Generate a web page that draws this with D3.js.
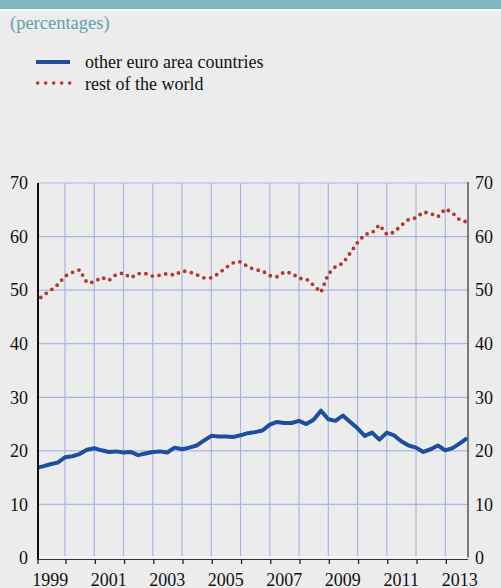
<!DOCTYPE html>
<html>
<head>
<meta charset="utf-8">
<script src="https://cdn.jsdelivr.net/npm/d3@7"></script>
<style>
  body { margin: 0; background: #ececec; }
  svg { display: block; }
</style>
</head>
<body>
<div class="canvas"></div>
<script>
// quarterly data, 1999 Q1 - 2013 Q4
const startYear = 1999;
const euroArea = [
  16.8, 17.1, 17.5, 17.8, 18.8, 19.0, 19.4, 20.2, 20.5, 20.1,
  19.8, 19.9, 19.7, 19.8, 19.2, 19.5, 19.8, 19.9, 19.7, 20.6,
  20.3, 20.6, 21.0, 21.9, 22.8, 22.7, 22.7, 22.6, 22.9, 23.3,
  23.5, 23.8, 24.9, 25.4, 25.2, 25.2, 25.6, 25.0, 25.8, 27.5,
  25.9, 25.6, 26.6, 25.4, 24.2, 22.8, 23.4, 22.1, 23.4, 22.9,
  21.8, 21.0, 20.6, 19.8, 20.3, 21.0, 20.1, 20.5, 21.4, 22.4
];
const restWorld = [
  47.8, 49.0, 49.9, 51.0, 52.6, 53.3, 53.8, 51.4, 51.5, 52.4,
  51.8, 52.9, 53.2, 52.3, 53.1, 53.1, 52.6, 52.8, 53.1, 52.8,
  53.6, 53.4, 52.9, 52.3, 52.3, 53.1, 54.2, 55.1, 55.3, 54.4,
  53.8, 53.6, 52.7, 52.5, 53.4, 53.2, 52.2, 52.1, 50.9, 49.6,
  53.0, 54.4, 55.0, 56.9, 58.9, 60.4, 60.7, 62.2, 60.4, 60.8,
  62.1, 63.2, 63.5, 64.6, 64.3, 63.7, 65.2, 64.4, 63.1, 62.7
];
const seriesNames = ['other euro area countries', 'rest of the world'];
const yTicks = [0, 10, 20, 30, 40, 50, 60, 70];
const yearLabels = [1999, 2001, 2003, 2005, 2007, 2009, 2011, 2013];

const quarters = euroArea.map((d, i) => new Date(startYear, 3 * i, 1));

const width = 501, height = 588;
const plotLeft = 38, plotRight = 468, plotTop = 183, plotBottom = 558;
const blue = '#1c4f9e', red = '#b3372c', grid = '#aab5e6';
const serif = "'Liberation Serif', 'DejaVu Serif', 'Times New Roman', serif";

const svg = d3.select('.canvas')
    .append('svg')
    .attr('width', width)
    .attr('height', height)
    .attr('font-family', serif)
    .style('font-family', serif);

// header band and subtitle
svg.append('rect').attr('x', 0).attr('y', 0).attr('width', width).attr('height', 9).attr('fill', '#82b5bc');
svg.append('rect').attr('x', 0).attr('y', 9).attr('width', width).attr('height', 2).attr('fill', '#ffffff');
svg.append('text')
    .attr('x', 10).attr('y', 29)
    .attr('font-size', 18.5)
    .attr('fill', '#5fa3ab')
    .text('(percentages)');

// legend
const legend = svg.append('g');
legend.append('line')
    .attr('x1', 36).attr('x2', 70).attr('y1', 62).attr('y2', 62)
    .attr('stroke', blue).attr('stroke-width', 4);
legend.append('line')
    .attr('x1', 37.7).attr('x2', 70).attr('y1', 83).attr('y2', 83)
    .attr('stroke', red).attr('stroke-width', 3.6)
    .attr('stroke-linecap', 'round').attr('stroke-dasharray', '0 8');
legend.selectAll('text.leg')
    .data(seriesNames)
    .enter().append('text')
    .attr('class', 'leg')
    .attr('x', 85)
    .attr('y', (d, i) => 68 + i * 21.5)
    .attr('font-size', 18)
    .attr('fill', '#111')
    .text(d => d);

// scales
const x = d3.scaleTime()
    .domain([new Date(1999, 0, 1), new Date(2013, 9, 1)])
    .range([35.75, 467.2]);
const y = d3.scaleLinear()
    .domain([0, 70])
    .range([plotBottom, plotTop]);

const yearLines = d3.timeYear.range(new Date(2000, 0, 1), new Date(2014, 0, 1));

// grid
const gridG = svg.append('g');
gridG.selectAll('line.h')
    .data(yTicks.filter(d => d > 0))
    .enter().append('line')
    .attr('x1', plotLeft).attr('x2', plotRight)
    .attr('y1', d => y(d)).attr('y2', d => y(d))
    .attr('stroke', grid).attr('stroke-width', 1.2);
gridG.selectAll('line.v')
    .data(yearLines)
    .enter().append('line')
    .attr('x1', d => x(d)).attr('x2', d => x(d))
    .attr('y1', plotTop).attr('y2', plotBottom - 1.5)
    .attr('stroke', grid).attr('stroke-width', 1.2);

// bottom axis
svg.append('line')
    .attr('x1', plotLeft).attr('x2', plotRight).attr('y1', plotBottom - 1).attr('y2', plotBottom - 1)
    .attr('stroke', '#ffffff').attr('stroke-width', 1.2);
svg.append('line')
    .attr('x1', plotLeft - 1).attr('x2', plotRight).attr('y1', plotBottom + 1.5).attr('y2', plotBottom + 1.5)
    .attr('stroke', '#333').attr('stroke-width', 1.2);
svg.selectAll('line.tick')
    .data([new Date(1999, 0, 1)].concat(yearLines))
    .enter().append('line')
    .attr('x1', d => Math.max(plotLeft, x(d) + 1)).attr('x2', d => Math.max(plotLeft, x(d) + 1))
    .attr('y1', plotBottom + 1.5).attr('y2', plotBottom + 6)
    .attr('stroke', '#222').attr('stroke-width', 1.3);

// lines
const clip = svg.append('clipPath').attr('id', 'plot');
clip.append('rect').attr('x', plotLeft).attr('y', plotTop - 5)
    .attr('width', plotRight - plotLeft).attr('height', plotBottom - plotTop + 5);

const line = d3.line()
    .x((d, i) => x(quarters[i]))
    .y(d => y(d));

const plot = svg.append('g').attr('clip-path', 'url(#plot)');
plot.append('path')
    .datum(restWorld)
    .attr('d', line)
    .attr('fill', 'none')
    .attr('stroke', red)
    .attr('stroke-width', 3.8)
    .attr('stroke-linecap', 'round')
    .attr('stroke-dasharray', '0 6.8');
plot.append('path')
    .datum(euroArea)
    .attr('d', line)
    .attr('fill', 'none')
    .attr('stroke', blue)
    .attr('stroke-width', 4)
    .attr('stroke-linejoin', 'round');

// side axes
svg.append('line')
    .attr('x1', plotLeft).attr('x2', plotLeft).attr('y1', plotTop).attr('y2', plotBottom + 2)
    .attr('stroke', '#111').attr('stroke-width', 2);
svg.append('line')
    .attr('x1', plotRight).attr('x2', plotRight).attr('y1', plotTop - 1).attr('y2', plotBottom - 0.5)
    .attr('stroke', '#555').attr('stroke-width', 1.5);

// y labels, both sides
svg.selectAll('text.yl')
    .data(yTicks)
    .enter().append('text')
    .attr('x', 28).attr('y', d => y(d)).attr('dy', '0.35em')
    .attr('text-anchor', 'end')
    .attr('font-size', 18).attr('fill', '#111')
    .text(d => d);
svg.selectAll('text.yr')
    .data(yTicks)
    .enter().append('text')
    .attr('x', 475).attr('y', d => y(d)).attr('dy', '0.35em')
    .attr('font-size', 18).attr('fill', '#111')
    .text(d => d);

// x labels
svg.selectAll('text.xl')
    .data(yearLabels)
    .enter().append('text')
    .attr('x', d => x(new Date(d, 6, 1)))
    .attr('y', 585.5)
    .attr('text-anchor', 'middle')
    .attr('font-size', 18).attr('fill', '#111')
    .text(d => d);
</script>
</body>
</html>
